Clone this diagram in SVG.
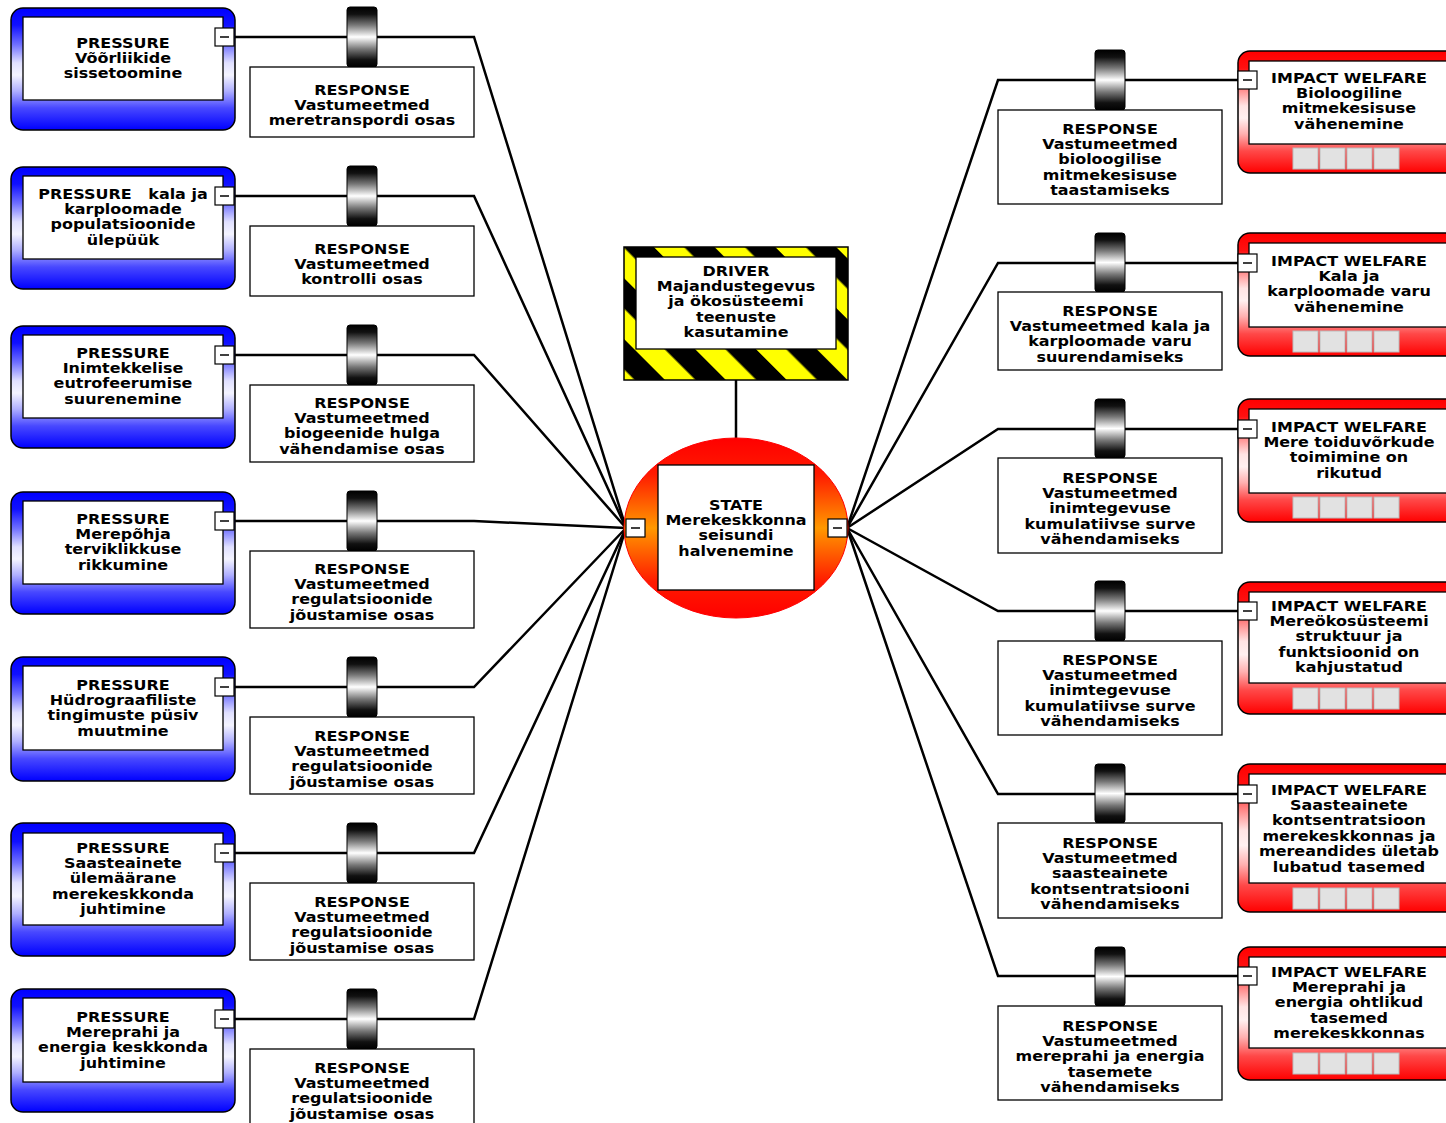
<svg xmlns="http://www.w3.org/2000/svg" width="1446" height="1123" viewBox="0 0 1446 1123">
<defs>
<linearGradient id="gBlue" x1="0" y1="0" x2="0" y2="1">
<stop offset="0" stop-color="#0000ff"/><stop offset="0.14" stop-color="#1010ff"/><stop offset="0.3" stop-color="#7070ff"/><stop offset="0.45" stop-color="#e0e0ff"/><stop offset="0.55" stop-color="#f4f4ff"/><stop offset="0.68" stop-color="#b0b0ff"/><stop offset="0.82" stop-color="#4848ff"/><stop offset="1" stop-color="#0000ff"/>
</linearGradient>
<linearGradient id="gRed" x1="0" y1="0" x2="0" y2="1">
<stop offset="0" stop-color="#ff0000"/><stop offset="0.14" stop-color="#ff1010"/><stop offset="0.3" stop-color="#ff8080"/><stop offset="0.45" stop-color="#ffe4e4"/><stop offset="0.55" stop-color="#fff0f0"/><stop offset="0.68" stop-color="#ffb0b0"/><stop offset="0.82" stop-color="#ff4848"/><stop offset="1" stop-color="#ff0000"/>
</linearGradient>
<linearGradient id="gBar" x1="0" y1="0" x2="0" y2="1">
<stop offset="0" stop-color="#000"/><stop offset="0.12" stop-color="#111"/><stop offset="0.3" stop-color="#777"/><stop offset="0.5" stop-color="#fff"/><stop offset="0.7" stop-color="#777"/><stop offset="0.88" stop-color="#111"/><stop offset="1" stop-color="#000"/>
</linearGradient>
<linearGradient id="gState" x1="0" y1="0" x2="0" y2="1">
<stop offset="0" stop-color="#ff0000"/><stop offset="0.2" stop-color="#ff1a00"/><stop offset="0.38" stop-color="#ff6600"/><stop offset="0.5" stop-color="#ff9900"/><stop offset="0.62" stop-color="#ff6600"/><stop offset="0.8" stop-color="#ff1a00"/><stop offset="1" stop-color="#ff0000"/>
</linearGradient>
<pattern id="pStripe" width="43" height="43" patternUnits="userSpaceOnUse" patternTransform="rotate(-45 624 247)">
<rect width="43" height="43" fill="#000"/><rect width="21.5" height="43" fill="#ffff00"/>
</pattern>
<g id="minus"><rect x="0" y="0" width="19" height="18" fill="#fff" stroke="#000" stroke-width="1.2"/><line x1="5" y1="9" x2="14" y2="9" stroke="#000" stroke-width="1.5"/></g>
<g id="btns">
<rect x="0" y="0" width="25" height="21" fill="#e2e2e2" stroke="#bbb"/><rect x="27" y="0" width="25" height="21" fill="#e2e2e2" stroke="#bbb"/><rect x="54" y="0" width="25" height="21" fill="#e2e2e2" stroke="#bbb"/><rect x="81" y="0" width="25" height="21" fill="#e2e2e2" stroke="#bbb"/>
</g>
</defs>
<style>
text{font-family:"DejaVu Sans","Verdana",sans-serif;font-weight:bold;font-size:13.3px;fill:#000;text-anchor:middle}
.conn{fill:none;stroke:#000;stroke-width:2.5;stroke-linejoin:miter}
.pOut{fill:url(#gBlue);stroke:#000;stroke-width:1.5}
.iOut{fill:url(#gRed);stroke:#000;stroke-width:1.5}
.inner{fill:#fff;stroke:#000;stroke-width:1.3}
.box{fill:#fff;stroke:#000;stroke-width:1.3}
.bar{fill:url(#gBar);stroke:#000;stroke-width:1}
</style>
<rect width="1446" height="1123" fill="#fff"/>

<g id="connectors">
<polyline class="conn" points="234,37 474,37 626,528"/>
<polyline class="conn" points="234,196 474,196 626,528"/>
<polyline class="conn" points="234,355 474,355 626,528"/>
<polyline class="conn" points="234,521 474,521 626,528"/>
<polyline class="conn" points="234,687 474,687 626,528"/>
<polyline class="conn" points="234,853 474,853 626,528"/>
<polyline class="conn" points="234,1019 474,1019 626,528"/>
<polyline class="conn" points="847,528 998,80 1238,80"/>
<polyline class="conn" points="847,528 998,263 1238,263"/>
<polyline class="conn" points="847,528 998,429 1238,429"/>
<polyline class="conn" points="847,528 998,611 1238,611"/>
<polyline class="conn" points="847,528 998,794 1238,794"/>
<polyline class="conn" points="847,528 998,976 1238,976"/>
<line class="conn" x1="736" y1="380" x2="736" y2="440"/>
</g>

<!-- Pressure nodes -->
<g id="pressure1"><rect class="pOut" x="11" y="8" width="224" height="122" rx="12"/><rect class="inner" x="23" y="17" width="200" height="83"/><use href="#minus" x="215" y="28"/>
<text transform="translate(123 47.5) scale(1.2 1)"><tspan x="0" y="0">PRESSURE</tspan><tspan x="0" dy="15.5">Võõrliikide</tspan><tspan x="0" dy="15.5">sissetoomine</tspan></text></g>
<g id="pressure2"><rect class="pOut" x="11" y="167" width="224" height="122" rx="12"/><rect class="inner" x="23" y="176" width="200" height="83"/><use href="#minus" x="215" y="187"/>
<text transform="translate(123 198.5) scale(1.2 1)"><tspan x="0" y="0" style="white-space:pre">PRESSURE   kala ja</tspan><tspan x="0" dy="15.5">karploomade</tspan><tspan x="0" dy="15.5">populatsioonide</tspan><tspan x="0" dy="15.5">ülepüük</tspan></text></g>
<g id="pressure3"><rect class="pOut" x="11" y="326" width="224" height="122" rx="12"/><rect class="inner" x="23" y="335" width="200" height="83"/><use href="#minus" x="215" y="346"/>
<text transform="translate(123 357.5) scale(1.2 1)"><tspan x="0" y="0">PRESSURE</tspan><tspan x="0" dy="15.5">Inimtekkelise</tspan><tspan x="0" dy="15.5">eutrofeerumise</tspan><tspan x="0" dy="15.5">suurenemine</tspan></text></g>
<g id="pressure4"><rect class="pOut" x="11" y="492" width="224" height="122" rx="12"/><rect class="inner" x="23" y="501" width="200" height="83"/><use href="#minus" x="215" y="512"/>
<text transform="translate(123 523.5) scale(1.2 1)"><tspan x="0" y="0">PRESSURE</tspan><tspan x="0" dy="15.5">Merepõhja</tspan><tspan x="0" dy="15.5">terviklikkuse</tspan><tspan x="0" dy="15.5">rikkumine</tspan></text></g>
<g id="pressure5"><rect class="pOut" x="11" y="657" width="224" height="124" rx="12"/><rect class="inner" x="23" y="666" width="200" height="84"/><use href="#minus" x="215" y="678"/>
<text transform="translate(123 689.5) scale(1.2 1)"><tspan x="0" y="0">PRESSURE</tspan><tspan x="0" dy="15.5">Hüdrograafiliste</tspan><tspan x="0" dy="15.5">tingimuste püsiv</tspan><tspan x="0" dy="15.5">muutmine</tspan></text></g>
<g id="pressure6"><rect class="pOut" x="11" y="823" width="224" height="133" rx="12"/><rect class="inner" x="23" y="833" width="200" height="92"/><use href="#minus" x="215" y="844"/>
<text transform="translate(123 852.5) scale(1.2 1)"><tspan x="0" y="0">PRESSURE</tspan><tspan x="0" dy="15.5">Saasteainete</tspan><tspan x="0" dy="15.5">ülemäärane</tspan><tspan x="0" dy="15.5">merekeskkonda</tspan><tspan x="0" dy="15.5">juhtimine</tspan></text></g>
<g id="pressure7"><rect class="pOut" x="11" y="989" width="224" height="123" rx="12"/><rect class="inner" x="23" y="998" width="200" height="84"/><use href="#minus" x="215" y="1010"/>
<text transform="translate(123 1021.5) scale(1.2 1)"><tspan x="0" y="0">PRESSURE</tspan><tspan x="0" dy="15.5">Mereprahi ja</tspan><tspan x="0" dy="15.5">energia keskkonda</tspan><tspan x="0" dy="15.5">juhtimine</tspan></text></g>

<!-- Left responses -->
<g id="responseL1"><rect class="bar" x="347" y="7" width="30" height="60" rx="3"/><rect class="box" x="250" y="67" width="224" height="70"/>
<text transform="translate(362 94.5) scale(1.2 1)"><tspan x="0" y="0">RESPONSE</tspan><tspan x="0" dy="15.5">Vastumeetmed</tspan><tspan x="0" dy="15.5">meretranspordi osas</tspan></text></g>
<g id="responseL2"><rect class="bar" x="347" y="166" width="30" height="60" rx="3"/><rect class="box" x="250" y="226" width="224" height="70"/>
<text transform="translate(362 253.5) scale(1.2 1)"><tspan x="0" y="0">RESPONSE</tspan><tspan x="0" dy="15.5">Vastumeetmed</tspan><tspan x="0" dy="15.5">kontrolli osas</tspan></text></g>
<g id="responseL3"><rect class="bar" x="347" y="325" width="30" height="60" rx="3"/><rect class="box" x="250" y="385" width="224" height="77"/>
<text transform="translate(362 407.5) scale(1.2 1)"><tspan x="0" y="0">RESPONSE</tspan><tspan x="0" dy="15.5">Vastumeetmed</tspan><tspan x="0" dy="15.5">biogeenide hulga</tspan><tspan x="0" dy="15.5">vähendamise osas</tspan></text></g>
<g id="responseL4"><rect class="bar" x="347" y="491" width="30" height="60" rx="3"/><rect class="box" x="250" y="551" width="224" height="77"/>
<text transform="translate(362 573.5) scale(1.2 1)"><tspan x="0" y="0">RESPONSE</tspan><tspan x="0" dy="15.5">Vastumeetmed</tspan><tspan x="0" dy="15.5">regulatsioonide</tspan><tspan x="0" dy="15.5">jõustamise osas</tspan></text></g>
<g id="responseL5"><rect class="bar" x="347" y="657" width="30" height="60" rx="3"/><rect class="box" x="250" y="717" width="224" height="77"/>
<text transform="translate(362 740.5) scale(1.2 1)"><tspan x="0" y="0">RESPONSE</tspan><tspan x="0" dy="15.5">Vastumeetmed</tspan><tspan x="0" dy="15.5">regulatsioonide</tspan><tspan x="0" dy="15.5">jõustamise osas</tspan></text></g>
<g id="responseL6"><rect class="bar" x="347" y="823" width="30" height="60" rx="3"/><rect class="box" x="250" y="883" width="224" height="77"/>
<text transform="translate(362 906.5) scale(1.2 1)"><tspan x="0" y="0">RESPONSE</tspan><tspan x="0" dy="15.5">Vastumeetmed</tspan><tspan x="0" dy="15.5">regulatsioonide</tspan><tspan x="0" dy="15.5">jõustamise osas</tspan></text></g>
<g id="responseL7"><rect class="bar" x="347" y="989" width="30" height="60" rx="3"/><rect class="box" x="250" y="1049" width="224" height="80"/>
<text transform="translate(362 1072.5) scale(1.2 1)"><tspan x="0" y="0">RESPONSE</tspan><tspan x="0" dy="15.5">Vastumeetmed</tspan><tspan x="0" dy="15.5">regulatsioonide</tspan><tspan x="0" dy="15.5">jõustamise osas</tspan></text></g>

<!-- Driver -->
<g id="driver"><rect x="624" y="247" width="224" height="133" fill="url(#pStripe)" stroke="#000" stroke-width="1.5"/><rect class="inner" x="636" y="257" width="200" height="92"/>
<text transform="translate(736 275.5) scale(1.2 1)"><tspan x="0" y="0">DRIVER</tspan><tspan x="0" dy="15.5">Majandustegevus</tspan><tspan x="0" dy="15.5">ja ökosüsteemi</tspan><tspan x="0" dy="15.5">teenuste</tspan><tspan x="0" dy="15.5">kasutamine</tspan></text></g>

<!-- State -->
<g id="state"><ellipse cx="736" cy="528" rx="112" ry="90" fill="url(#gState)" stroke="#ff0000" stroke-width="1"/><rect class="inner" x="658" y="465" width="156" height="125"/>
<use href="#minus" x="626" y="519"/><use href="#minus" x="828" y="519"/>
<text transform="translate(736 509.5) scale(1.2 1)"><tspan x="0" y="0">STATE</tspan><tspan x="0" dy="15.5">Merekeskkonna</tspan><tspan x="0" dy="15.5">seisundi</tspan><tspan x="0" dy="15.5">halvenemine</tspan></text></g>

<!-- Right responses -->
<g id="responseR1"><rect class="bar" x="1095" y="50" width="30" height="60" rx="3"/><rect class="box" x="998" y="110" width="224" height="94"/>
<text transform="translate(1110 133.5) scale(1.2 1)"><tspan x="0" y="0">RESPONSE</tspan><tspan x="0" dy="15.5">Vastumeetmed</tspan><tspan x="0" dy="15.5">bioloogilise</tspan><tspan x="0" dy="15.5">mitmekesisuse</tspan><tspan x="0" dy="15.5">taastamiseks</tspan></text></g>
<g id="responseR2"><rect class="bar" x="1095" y="233" width="30" height="59" rx="3"/><rect class="box" x="998" y="292" width="224" height="78"/>
<text transform="translate(1110 315.5) scale(1.2 1)"><tspan x="0" y="0">RESPONSE</tspan><tspan x="0" dy="15.5">Vastumeetmed kala ja</tspan><tspan x="0" dy="15.5">karploomade varu</tspan><tspan x="0" dy="15.5">suurendamiseks</tspan></text></g>
<g id="responseR3"><rect class="bar" x="1095" y="399" width="30" height="59" rx="3"/><rect class="box" x="998" y="458" width="224" height="95"/>
<text transform="translate(1110 482.5) scale(1.2 1)"><tspan x="0" y="0">RESPONSE</tspan><tspan x="0" dy="15.5">Vastumeetmed</tspan><tspan x="0" dy="15.5">inimtegevuse</tspan><tspan x="0" dy="15.5">kumulatiivse surve</tspan><tspan x="0" dy="15.5">vähendamiseks</tspan></text></g>
<g id="responseR4"><rect class="bar" x="1095" y="581" width="30" height="60" rx="3"/><rect class="box" x="998" y="641" width="224" height="94"/>
<text transform="translate(1110 664.5) scale(1.2 1)"><tspan x="0" y="0">RESPONSE</tspan><tspan x="0" dy="15.5">Vastumeetmed</tspan><tspan x="0" dy="15.5">inimtegevuse</tspan><tspan x="0" dy="15.5">kumulatiivse surve</tspan><tspan x="0" dy="15.5">vähendamiseks</tspan></text></g>
<g id="responseR5"><rect class="bar" x="1095" y="764" width="30" height="59" rx="3"/><rect class="box" x="998" y="823" width="224" height="95"/>
<text transform="translate(1110 847.5) scale(1.2 1)"><tspan x="0" y="0">RESPONSE</tspan><tspan x="0" dy="15.5">Vastumeetmed</tspan><tspan x="0" dy="15.5">saasteainete</tspan><tspan x="0" dy="15.5">kontsentratsiooni</tspan><tspan x="0" dy="15.5">vähendamiseks</tspan></text></g>
<g id="responseR6"><rect class="bar" x="1095" y="947" width="30" height="59" rx="3"/><rect class="box" x="998" y="1006" width="224" height="94"/>
<text transform="translate(1110 1030.5) scale(1.2 1)"><tspan x="0" y="0">RESPONSE</tspan><tspan x="0" dy="15.5">Vastumeetmed</tspan><tspan x="0" dy="15.5">mereprahi ja energia</tspan><tspan x="0" dy="15.5">tasemete</tspan><tspan x="0" dy="15.5">vähendamiseks</tspan></text></g>

<!-- Impacts -->
<g id="impact1"><rect class="iOut" x="1238" y="51" width="230" height="122" rx="12"/><rect class="inner" x="1249" y="61" width="220" height="83"/><use href="#minus" x="1238" y="71"/><use href="#btns" x="1293" y="148"/>
<text transform="translate(1349 82.5) scale(1.2 1)"><tspan x="0" y="0">IMPACT WELFARE</tspan><tspan x="0" dy="15.5">Bioloogiline</tspan><tspan x="0" dy="15.5">mitmekesisuse</tspan><tspan x="0" dy="15.5">vähenemine</tspan></text></g>
<g id="impact2"><rect class="iOut" x="1238" y="233" width="230" height="123" rx="12"/><rect class="inner" x="1249" y="243" width="220" height="84"/><use href="#minus" x="1238" y="254"/><use href="#btns" x="1293" y="331"/>
<text transform="translate(1349 265.5) scale(1.2 1)"><tspan x="0" y="0">IMPACT WELFARE</tspan><tspan x="0" dy="15.5">Kala ja</tspan><tspan x="0" dy="15.5">karploomade varu</tspan><tspan x="0" dy="15.5">vähenemine</tspan></text></g>
<g id="impact3"><rect class="iOut" x="1238" y="399" width="230" height="123" rx="12"/><rect class="inner" x="1249" y="409" width="220" height="84"/><use href="#minus" x="1238" y="420"/><use href="#btns" x="1293" y="497"/>
<text transform="translate(1349 431.5) scale(1.2 1)"><tspan x="0" y="0">IMPACT WELFARE</tspan><tspan x="0" dy="15.5">Mere toiduvõrkude</tspan><tspan x="0" dy="15.5">toimimine on</tspan><tspan x="0" dy="15.5">rikutud</tspan></text></g>
<g id="impact4"><rect class="iOut" x="1238" y="582" width="230" height="132" rx="12"/><rect class="inner" x="1249" y="592" width="220" height="91"/><use href="#minus" x="1238" y="602"/><use href="#btns" x="1293" y="688"/>
<text transform="translate(1349 610.5) scale(1.2 1)"><tspan x="0" y="0">IMPACT WELFARE</tspan><tspan x="0" dy="15.5">Mereökosüsteemi</tspan><tspan x="0" dy="15.5">struktuur ja</tspan><tspan x="0" dy="15.5">funktsioonid on</tspan><tspan x="0" dy="15.5">kahjustatud</tspan></text></g>
<g id="impact5"><rect class="iOut" x="1238" y="764" width="230" height="148" rx="12"/><rect class="inner" x="1249" y="774" width="220" height="109"/><use href="#minus" x="1238" y="785"/><use href="#btns" x="1293" y="888"/>
<text transform="translate(1349 794.5) scale(1.2 1)"><tspan x="0" y="0">IMPACT WELFARE</tspan><tspan x="0" dy="15.5">Saasteainete</tspan><tspan x="0" dy="15.5">kontsentratsioon</tspan><tspan x="0" dy="15.5">merekeskkonnas ja</tspan><tspan x="0" dy="15.5">mereandides ületab</tspan><tspan x="0" dy="15.5">lubatud tasemed</tspan></text></g>
<g id="impact6"><rect class="iOut" x="1238" y="947" width="230" height="133" rx="12"/><rect class="inner" x="1249" y="957" width="220" height="91"/><use href="#minus" x="1238" y="967"/><use href="#btns" x="1293" y="1053"/>
<text transform="translate(1349 976.5) scale(1.2 1)"><tspan x="0" y="0">IMPACT WELFARE</tspan><tspan x="0" dy="15.5">Mereprahi ja</tspan><tspan x="0" dy="15.5">energia ohtlikud</tspan><tspan x="0" dy="15.5">tasemed</tspan><tspan x="0" dy="15.5">merekeskkonnas</tspan></text></g>
</svg>
